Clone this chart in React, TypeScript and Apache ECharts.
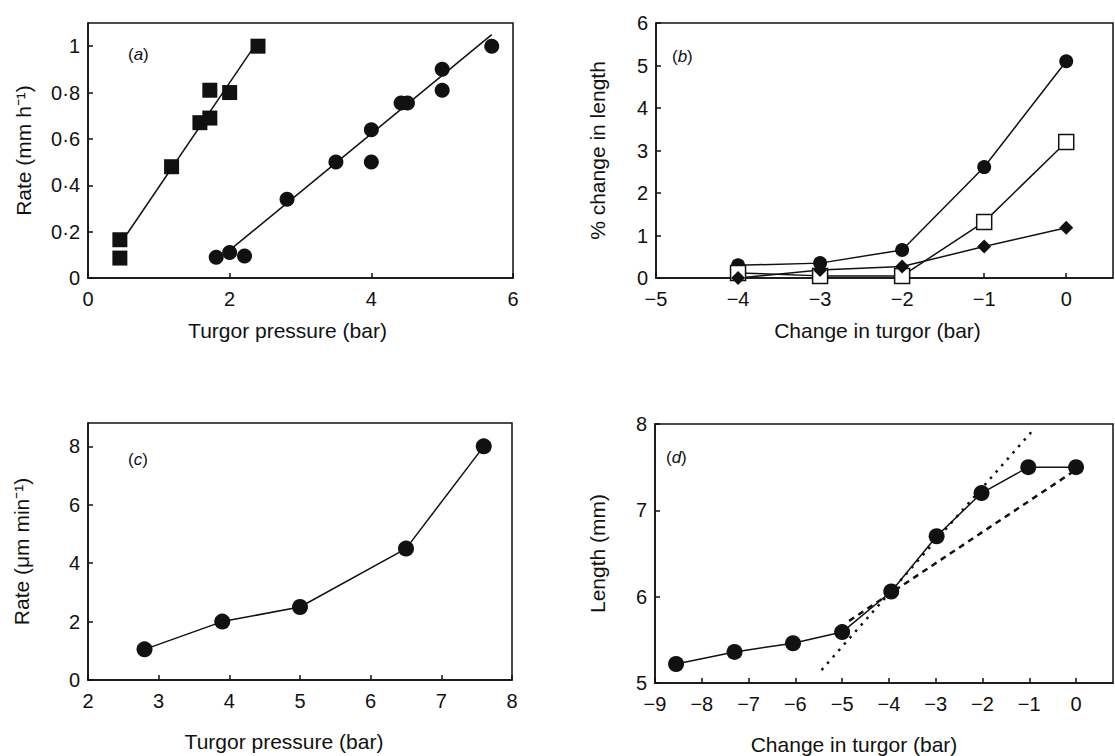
import React, { useEffect, useRef } from "react";
import * as echarts from "echarts";

// Panel (a)
const aSquareX = [0.45, 0.45, 1.18, 1.58, 1.72, 1.72, 2.0, 2.4];
const aSquareY = [0.086, 0.165, 0.48, 0.67, 0.69, 0.81, 0.8, 1.0];
const aCircleX = [1.81, 2.0, 2.21, 2.81, 3.5, 4.0, 4.0, 4.42, 4.51, 5.0, 5.0, 5.7];
const aCircleY = [0.09, 0.11, 0.095, 0.34, 0.5, 0.64, 0.5, 0.755, 0.755, 0.9, 0.81, 1.0];
const aSquareFitX = [0.55, 2.35];
const aSquareFitY = [0.19, 1.0];
const aCircleFitX = [2.0, 5.7];
const aCircleFitY = [0.12, 1.05];

// Panel (b)
const bX = [-4, -3, -2, -1, 0];
const bCircle = [0.3, 0.35, 0.66, 2.61, 5.1];
const bSquare = [0.12, 0.05, 0.05, 1.32, 3.2];
const bDiamond = [0.0, 0.19, 0.27, 0.74, 1.18];

// Panel (c)
const cX = [2.8, 3.9, 5.0, 6.5, 7.6];
const cY = [1.05, 2.0, 2.5, 4.5, 8.0];

// Panel (d)
const dX = [-8.55, -7.3, -6.05, -5.0, -3.95, -2.98, -2.02, -1.02, 0];
const dY = [5.22, 5.36, 5.46, 5.59, 6.06, 6.7, 7.2, 7.5, 7.5];
const dSteepX = [-5.44, -0.95];
const dSteepY = [5.15, 7.91];
const dShallowX = [-4.85, 0];
const dShallowY = [5.72, 7.47];

const FONT = "'Liberation Sans', Arial, sans-serif";
const INK = "#111";
const NAME_SIZE = 21;
const TICK_SIZE = 20;

const zip = (xs: number[], ys: number[]) => xs.map((x, i) => [x, ys[i]]);
const fmtDot = (v: number) => String(Math.round(v * 100) / 100).replace(".", "·");
const fmtMinus = (v: number) => (v < 0 ? "\u2212" + String(-v) : String(v));

function xAxis(gi: number, min: number, max: number, interval: number, name: string, nameGap: number, shiftLeft: number, fmt: (v: number) => string, showMax = true) {
  return {
    type: "value",
    gridIndex: gi,
    min,
    max,
    interval,
    name,
    nameLocation: "middle",
    nameGap,
    nameTextStyle: { fontFamily: FONT, fontSize: NAME_SIZE, color: INK, padding: [0, shiftLeft * 2, 0, 0] },
    axisLine: { show: true, onZero: false, lineStyle: { color: INK, width: 1.5 } },
    axisTick: { show: true, inside: true, length: 5, lineStyle: { color: INK, width: 1.5 } },
    axisLabel: { show: true, fontFamily: FONT, fontSize: TICK_SIZE, color: INK, margin: 11, formatter: fmt, showMaxLabel: showMax, showMinLabel: true },
    splitLine: { show: false },
  };
}

function yAxis(gi: number, min: number, max: number, interval: number, name: string, nameGap: number, fmt: (v: number) => string, showMax = true) {
  return {
    type: "value",
    gridIndex: gi,
    min,
    max,
    interval,
    name,
    nameLocation: "middle",
    nameGap,
    nameRotate: 90,
    nameTextStyle: { fontFamily: FONT, fontSize: NAME_SIZE, color: INK },
    axisLine: { show: true, onZero: false, lineStyle: { color: INK, width: 1.5 } },
    axisTick: { show: true, inside: true, length: 5, lineStyle: { color: INK, width: 1.5 } },
    axisLabel: { show: true, fontFamily: FONT, fontSize: TICK_SIZE, color: INK, margin: 8, formatter: fmt, showMaxLabel: showMax, showMinLabel: true },
    splitLine: { show: false },
  };
}

const panelLabel = (x: number, y: number, letter: string) => ({
  type: "text",
  x,
  y,
  style: {
    text: "(" + "{i|" + letter + "})",
    fontFamily: FONT,
    fontSize: 17,
    fill: INK,
    rich: { i: { fontStyle: "italic", fontFamily: FONT, fontSize: 17, fill: INK, color: INK } },
  },
});

export default function App() {
  const ref = useRef<HTMLDivElement>(null);
  useEffect(() => {
    if (!ref.current) return;
    const chart = echarts.init(ref.current, undefined, { renderer: "svg" });
    const gridBase = { show: true, borderColor: INK, borderWidth: 1.5, backgroundColor: "transparent", containLabel: false };
    const line = (xi: number, yi: number, data: number[][], extra: any = {}) => ({
      type: "line",
      xAxisIndex: xi,
      yAxisIndex: yi,
      data,
      symbol: "none",
      lineStyle: { color: INK, width: 1.5 },
      silent: true,
      ...extra,
    });
    const option: any = {
      animation: false,
      backgroundColor: "#fff",
      grid: [
        { ...gridBase, left: 88, top: 23, width: 425, height: 255 },
        { ...gridBase, left: 656, top: 23, width: 457, height: 255 },
        { ...gridBase, left: 88, top: 423, width: 424, height: 257 },
        { ...gridBase, left: 655, top: 424, width: 458, height: 259 },
      ],
      xAxis: [
        xAxis(0, 0, 6, 2, "Turgor pressure (bar)", 42, 13, (v) => fmtDot(v)),
        xAxis(1, -5, 0.57, 1, "Change in turgor (bar)", 42, 7, (v) => (Number.isInteger(v) ? fmtMinus(v) : ""), false),
        xAxis(2, 2, 8, 1, "Turgor pressure (bar)", 51, 16, (v) => String(v)),
        xAxis(3, -9, 0.79, 1, "Change in turgor (bar)", 51, 30, (v) => (Number.isInteger(v) ? fmtMinus(v) : ""), false),
      ],
      yAxis: [
        yAxis(0, 0, 1.1, 0.2, "Rate (mm h\u207B\u00B9)", 54, (v) => fmtDot(v), false),
        yAxis(1, 0, 6, 1, "% change in length", 48, (v) => String(v)),
        yAxis(2, 0, 8.8, 2, "Rate (\u03BCm min\u207B\u00B9)", 56, (v) => String(v), false),
        yAxis(3, 5, 8, 1, "Length (mm)", 47, (v) => String(v)),
      ],
      series: [
        // (a)
        line(0, 0, zip(aSquareFitX, aSquareFitY)),
        line(0, 0, zip(aCircleFitX, aCircleFitY)),
        {
          type: "scatter", xAxisIndex: 0, yAxisIndex: 0, data: zip(aSquareX, aSquareY),
          symbol: "rect", symbolSize: 15, itemStyle: { color: INK, opacity: 1 },
        },
        {
          type: "scatter", xAxisIndex: 0, yAxisIndex: 0, data: zip(aCircleX, aCircleY),
          symbol: "circle", symbolSize: 15, itemStyle: { color: INK, opacity: 1 },
        },
        // (b)
        line(1, 1, zip(bX, bCircle), { symbol: "circle", symbolSize: 14, itemStyle: { color: INK } }),
        line(1, 1, zip(bX, bSquare), { symbol: "rect", symbolSize: 15, itemStyle: { color: "#fff", borderColor: INK, borderWidth: 1.5 } }),
        line(1, 1, zip(bX, bDiamond), { symbol: "diamond", symbolSize: 14, itemStyle: { color: INK } }),
        // (c)
        line(2, 2, zip(cX, cY), { symbol: "circle", symbolSize: 16, itemStyle: { color: INK } }),
        // (d)
        line(3, 3, zip(dSteepX, dSteepY), { lineStyle: { color: INK, width: 2.5, type: [2.5, 6] } }),
        line(3, 3, zip(dShallowX, dShallowY), { lineStyle: { color: INK, width: 2.5, type: [6, 5] } }),
        line(3, 3, zip(dX, dY), { symbol: "circle", symbolSize: 16, itemStyle: { color: INK } }),
      ],
      graphic: [
        panelLabel(128, 46, "a"),
        panelLabel(672, 48, "b"),
        panelLabel(128, 451, "c"),
        panelLabel(666, 449, "d"),
      ],
    };
    chart.setOption(option);
    return () => chart.dispose();
  }, []);
  return (
    <div
      ref={ref}
      style={{ position: "fixed", left: 0, top: 0, width: 1115, height: 756, background: "#fff" }}
    />
  );
}
